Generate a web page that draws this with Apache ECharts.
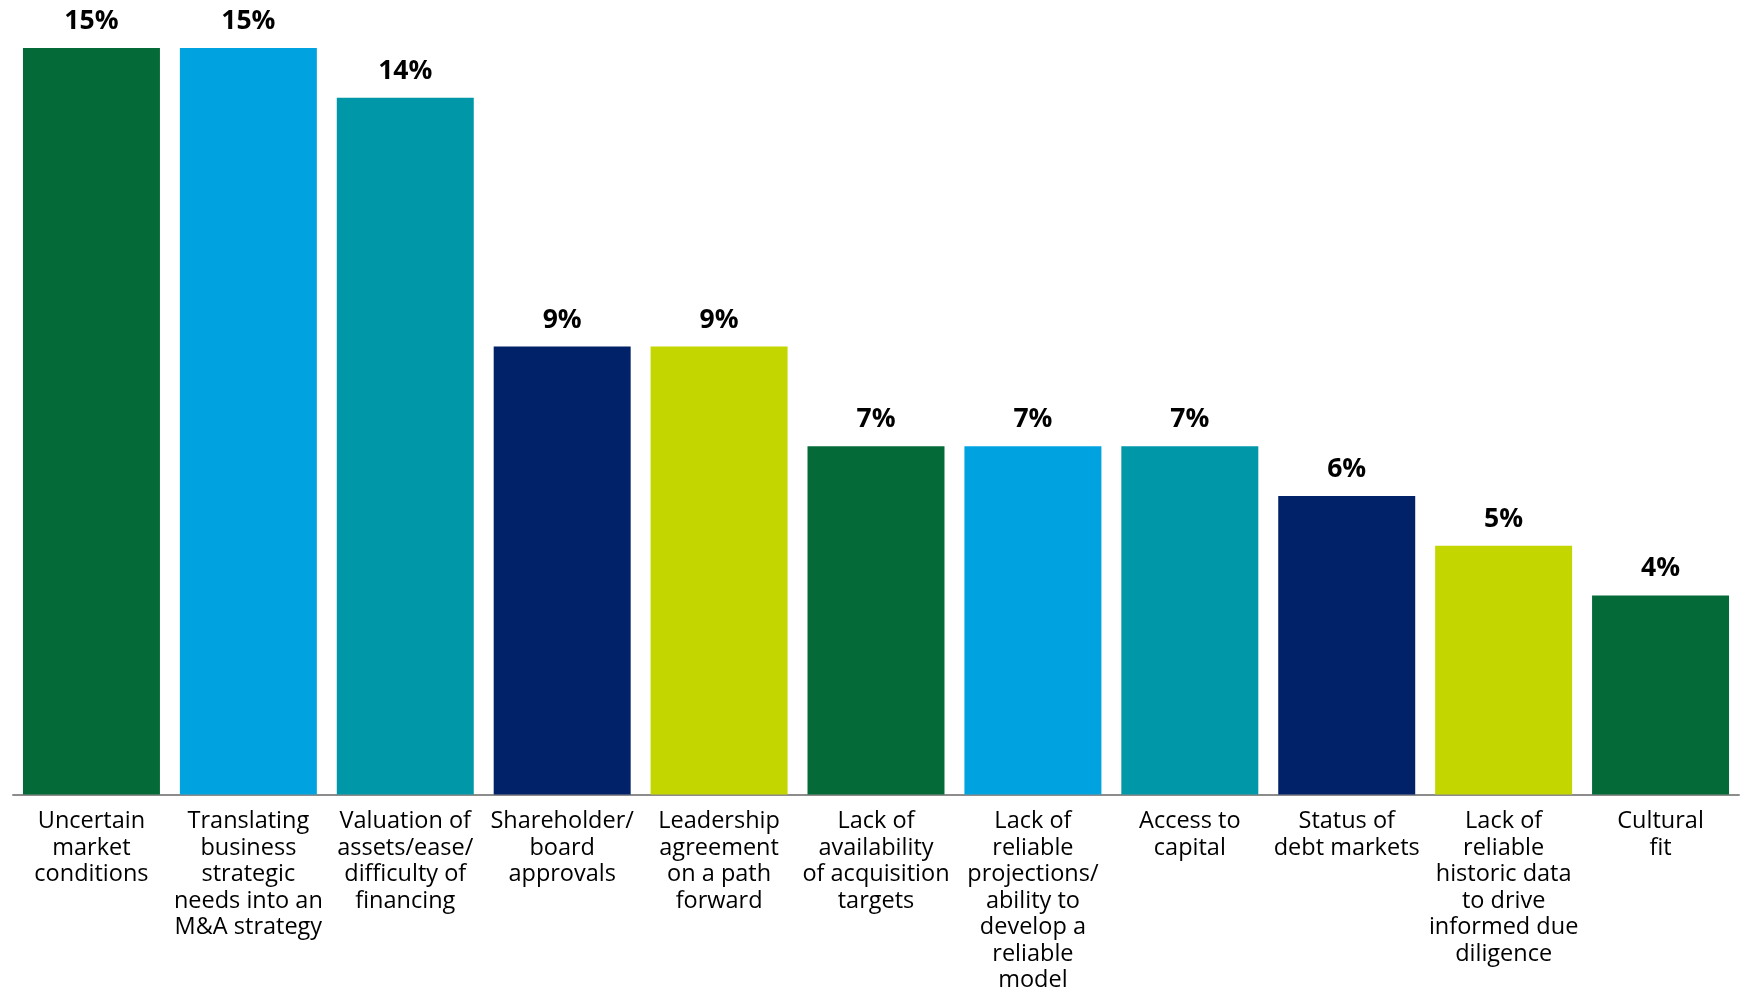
<!DOCTYPE html>
<html>
<head>
<meta charset="utf-8">
<script src="https://cdn.jsdelivr.net/npm/echarts@6/dist/echarts.min.js"></script>
<style>
  html, body { margin: 0; padding: 0; background: #fff; }
  #chart { width: 1744px; height: 994px; }
</style>
</head>
<body>
<div id="chart"></div>
<script>
const categories = [
  'Uncertain\nmarket\nconditions',
  'Translating\nbusiness\nstrategic\nneeds into an\nM&A strategy',
  'Valuation of\nassets/ease/\ndifficulty of\nfinancing',
  'Shareholder/\nboard\napprovals',
  'Leadership\nagreement\non a path\nforward',
  'Lack of\navailability\nof acquisition\ntargets',
  'Lack of\nreliable\nprojections/\nability to\ndevelop a\nreliable\nmodel',
  'Access to\ncapital',
  'Status of\ndebt markets',
  'Lack of\nreliable\nhistoric data\nto drive\ninformed due\ndiligence',
  'Cultural\nfit'
]
const values = [15, 15, 14, 9, 9, 7, 7, 7, 6, 5, 4]
const palette = ['#046A38', '#00A3E0', '#0097A9', '#012169', '#C4D600']

const chart = echarts.init(document.getElementById('chart'))

chart.setOption({
  animation: false,
  grid: {
    left: 13,
    right: 5,
    top: 48,
    bottom: 194,
    containLabel: false
  },
  xAxis: {
    type: 'category',
    data: categories,
    axisLine: {
      show: true,
      lineStyle: { color: '#8c8c8c', width: 2 }
    },
    axisTick: { show: false },
    axisLabel: {
      interval: 0,
      margin: 14,
      color: '#000',
      fontFamily: 'Open Sans',
      fontSize: 23.5,
      lineHeight: 26.5
    }
  },
  yAxis: {
    type: 'value',
    min: 0,
    max: 15,
    show: false,
    splitLine: { show: false }
  },
  series: [{
    type: 'bar',
    data: values,
    barCategoryGap: '12.7%',
    itemStyle: {
      color: function(params) {
        return palette[params.dataIndex % palette.length]
      }
    },
    label: {
      show: true,
      position: 'top',
      distance: 13,
      formatter: '{c}%',
      color: '#000',
      fontFamily: 'Open Sans',
      fontWeight: 'bold',
      fontSize: 26.5
    }
  }]
})
</script>
</body>
</html>
